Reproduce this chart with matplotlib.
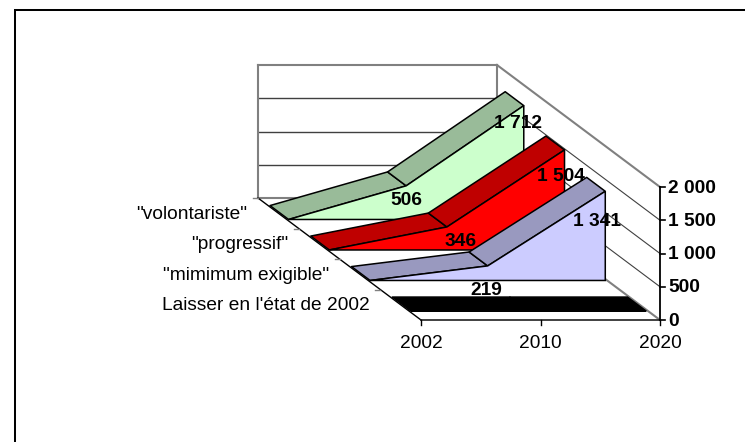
import matplotlib
matplotlib.use("Agg")
import matplotlib.pyplot as plt
from matplotlib.patches import Polygon

plt.rcParams['font.family'] = ['Liberation Sans', 'DejaVu Sans']

# data
years = ["2002", "2010", "2020"]
series = ["Laisser en l'état de 2002", '"mimimum exigible"', '"progressif"', '"volontariste"']
laisser = [0, 0, 0]
minimum = [0, 219, 1341]
progressif = [0, 346, 1504]
volontariste = [0, 506, 1712]
value_ticks = [0, 500, 1000, 1500, 2000]
value_tick_labels = ["0", "500", "1 000", "1 500", "2 000"]

# oblique projection: category position, depth (0 front .. 1 back), value
X0, Y0, WX, DX, DY, VS = 421.0, 320.0, 239.0, 163.0, 122.0, 133.0 / 2000.0
INSET = 0.008
def proj(x, d, v):
    return (X0 + WX * x - DX * d, Y0 - DY * d - VS * v)

fig = plt.figure(figsize=(7.45, 4.42), dpi=100)
ax = fig.add_axes([0, 0, 1, 1])
ax.set_xlim(0, 745)
ax.set_ylim(442, 0)
ax.axis('off')

FS = 13.8
GREY = '#808080'
DARK = '#404040'
pos = [0.0, 0.5, 1.0]

def line(a, b, color='black', lw=1.0, z=1):
    ax.plot([a[0], b[0]], [a[1], b[1]], color=color, lw=lw, zorder=z, solid_capstyle='projecting')

# chart frame: only left and top edges are visible in the crop
ax.plot([15, 15, 745], [442, 10.3, 10.3], color='black', lw=1.45, zorder=1, solid_joinstyle='miter')

# back and side walls
for v in value_ticks:
    col, lw = (GREY, 1.5) if v in (0, 2000) else (DARK, 1.0)
    line(proj(0, 1, v), proj(1, 1, v), col, lw)
    line(proj(1, 1, v), proj(1, 0, v), col if v != 0 else GREY, lw if v in (0, 2000) else 0.8)
line(proj(0, 1, 0), proj(0, 1, 2000), GREY, 1.5)
line(proj(1, 1, 0), proj(1, 1, 2000), GREY, 1.5)

# series, back to front
styles = [
    (volontariste, '#CCFFCC', '#99BB99', 0.75),
    (progressif, '#FF0000', '#BF0000', 0.50),
    (minimum, '#CCCCFF', '#9999BF', 0.25),
    (laisser, 'black', 'black', 0.00),
]
D1, D2 = 0.074, 0.188
z = 3
for vals, front, top, base in styles:
    df, db = base + D1, base + D2
    xs = [INSET, 0.5, 1 - INSET]
    for i in range(2):
        quad = [proj(xs[i], df, vals[i]), proj(xs[i + 1], df, vals[i + 1]),
                proj(xs[i + 1], db, vals[i + 1]), proj(xs[i], db, vals[i])]
        ax.add_patch(Polygon(quad, closed=True, fc=top, ec='black', lw=1.1, zorder=z, joinstyle='round'))
    face = [proj(x, df, v) for x, v in zip(xs, vals)] + [proj(xs[-1], df, 0), proj(xs[0], df, 0)]
    ax.add_patch(Polygon(face, closed=True, fc=front, ec='black', lw=1.1, zorder=z))
    z += 1

# floor edges and axes
line(proj(0, 1, 0), proj(0, 0, 0), 'black', 1.0, 9)
line(proj(0, 0, 0), proj(1, 0, 0), '#202020', 1.2, 9)
line(proj(1, 0, 0), proj(1, 0, 2000), 'black', 1.3, 9)

for x, lab in zip(pos, years):
    px, py = proj(x, 0, 0)
    ax.plot([px, px], [py, py + 5], color='black', lw=1.0, zorder=9)
    ax.text(px, py + 23.5, lab, ha='center', va='center', fontsize=FS, zorder=10)

for v, lab in zip(value_ticks, value_tick_labels):
    px, py = proj(1, 0, v)
    ax.plot([px, px + 5], [py, py], color='black', lw=1.2, zorder=9)
    ax.text(px + 8, py + 1.2, lab, ha='left', va='center', fontsize=FS, fontweight='bold', zorder=10)

for i, name in enumerate(series):
    px, py = proj(0, 0.25 * (i + 1), 0)
    ax.plot([px - 5, px], [py, py], color=GREY, lw=1.0, zorder=9)
    px, py = proj(0, 0.25 * i + 0.131, 0)
    ax.text(px - 30, py + 1.5, name, ha='right', va='center', fontsize=FS, zorder=10)

# data labels
def fmt(n):
    return f"{n:,}".replace(",", " ")
label_offsets = {506: (0, 14.5), 1712: (-8, 17.5), 346: (14, 14.5), 1504: (-6, 26.5), 219: (-1, 24.5), 1341: (-10, 30.5)}
for vals, _, _, base in styles[:3]:
    for i in (1, 2):
        px, py = proj(pos[i], base + D1, vals[i])
        ox, oy = label_offsets[vals[i]]
        ax.text(px + ox, py + oy, fmt(vals[i]), ha='center', va='center', fontsize=FS,
                fontweight='bold', zorder=12)

fig.savefig('out.png', dpi=100)
